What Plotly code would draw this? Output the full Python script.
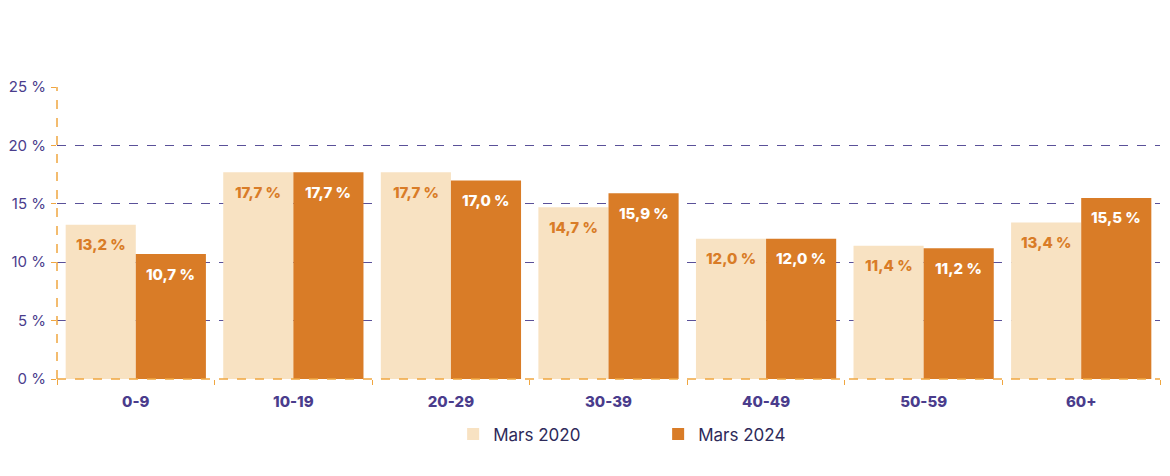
import plotly.graph_objects as go

categories = ["0-9", "10-19", "20-29", "30-39", "40-49", "50-59", "60+"]
mars_2020 = [13.2, 17.7, 17.7, 14.7, 12.0, 11.4, 13.4]
mars_2024 = [10.7, 17.7, 17.0, 15.9, 12.0, 11.2, 15.5]
series_names = ["Mars 2020", "Mars 2024"]
tick_vals = [0, 5, 10, 15, 20, 25]
tick_text = [f"{v} %" for v in tick_vals]

LIGHT = "#f8e2c2"
ORANGE = "#d97c27"
PURPLE = "#4a3c8c"
AXIS_ORANGE = "#f0a640"


def fmt(v):
    return f"{v:.1f}".replace(".", ",") + " %"


fig = go.Figure()
fig.add_bar(
    x=categories, y=mars_2020, name=series_names[0],
    marker=dict(color=LIGHT, line=dict(width=0)),
)
fig.add_bar(
    x=categories, y=mars_2024, name=series_names[1],
    marker=dict(color=ORANGE, line=dict(width=0)),
)

annotations = []
for series, shift, color in ((mars_2020, -35, ORANGE), (mars_2024, 35, "white")):
    for cat, v in zip(categories, series):
        annotations.append(dict(
            x=cat, y=v, xref="x", yref="y", text=fmt(v), showarrow=False,
            xshift=shift, yshift=-20, yanchor="middle", xanchor="center",
            font=dict(color=color, size=15, family="Inter", weight=800),
        ))

fig.update_layout(
    width=1162, height=468,
    margin=dict(l=49, r=10, t=79, b=97, autoexpand=False),
    paper_bgcolor="white", plot_bgcolor="white",
    barmode="group", bargap=0.11, bargroupgap=0,
    font=dict(family="Inter", color=PURPLE),
    annotations=annotations,
    legend=dict(
        orientation="h", x=0.545, xanchor="center", y=-0.19, yanchor="middle",
        font=dict(size=17, color="#2e2a5a", family="Inter"),
        itemwidth=30, entrywidth=160, entrywidthmode="pixels",
        traceorder="normal",
    ),
    xaxis=dict(
        showline=False, showgrid=False, zeroline=False,
        ticks="outside", tickson="boundaries", ticklen=5, tickcolor=AXIS_ORANGE,
        tickfont=dict(size=15, color=PURPLE, family="Inter", weight=800),
        ticklabelstandoff=12,
    ),
    yaxis=dict(
        range=[0, 25], tickmode="array", tickvals=tick_vals, ticktext=tick_text,
        showgrid=True, gridcolor="#5a5199", griddash="dash", gridwidth=1,
        zeroline=False, showline=False,
        ticks="outside", ticklen=5, tickcolor=AXIS_ORANGE,
        tickfont=dict(size=15, color=PURPLE, family="Inter"),
        ticklabelstandoff=2,
    ),
    shapes=[
        dict(type="line", xref="paper", yref="paper", x0=0, x1=0, y0=0, y1=1,
             line=dict(color=AXIS_ORANGE, width=1.5, dash="dash"), layer="above"),
        dict(type="line", xref="paper", yref="paper", x0=0, x1=1, y0=0, y1=0,
             line=dict(color=AXIS_ORANGE, width=1.5, dash="dash"), layer="above"),
    ],
)

fig.write_html("out.html")
